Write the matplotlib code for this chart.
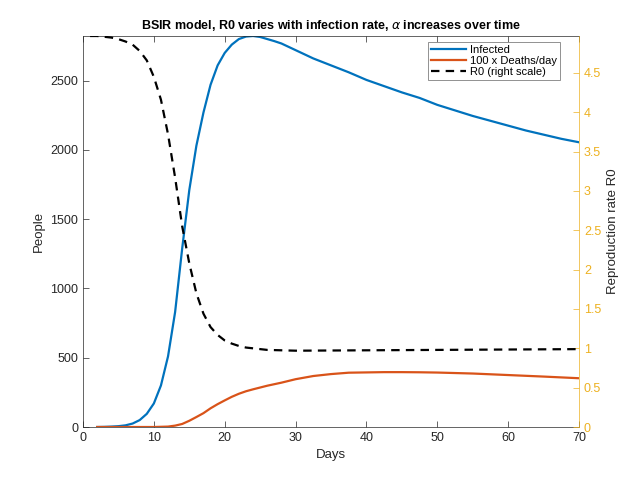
import matplotlib
matplotlib.use("Agg")
import matplotlib.pyplot as plt

plt.rcParams['font.family'] = ['Liberation Sans', 'DejaVu Sans']
plt.rcParams['mathtext.fontset'] = 'dejavusans'

# infected people
inf_days = [2, 3, 4, 5, 6, 7, 8, 9, 10, 11, 12, 13, 14, 15, 16, 17, 18, 19, 20,
            21, 22, 23, 24, 25, 26, 27, 28, 30, 32.5, 35, 37.5, 40, 42.5, 45,
            47.5, 50, 52.5, 55, 57.5, 60, 62.5, 65, 67.5, 70]
infected = [0, 1, 3, 6, 12, 25, 50, 95, 170, 300, 510, 830, 1290, 1710, 2030,
            2270, 2470, 2610, 2700, 2760, 2800, 2818, 2822, 2815, 2800, 2785,
            2768, 2720, 2660, 2610, 2560, 2505, 2460, 2415, 2375, 2325, 2285,
            2245, 2210, 2175, 2140, 2110, 2080, 2055]

# 100 x deaths per day
death_days = [2, 6, 10, 12, 13, 14, 15, 16, 17, 18, 19, 20, 21, 22, 23, 24, 25,
              26, 28, 30, 32.5, 35, 37.5, 40, 42.5, 45, 47.5, 50, 55, 60, 65, 70]
deaths100 = [0, 0, 0, 3, 10, 22, 45, 72, 100, 135, 165, 192, 218, 240, 258, 272,
             285, 298, 320, 345, 368, 382, 392, 394, 396, 396, 395, 393, 386,
             375, 364, 352]

# reproduction rate
r0_days = [1, 2, 3, 4, 5, 6, 7, 8, 9, 10, 11, 12, 13, 14, 15, 16, 17, 18, 19, 20,
           21, 22, 23, 24, 25, 26, 28, 30, 40, 50, 60, 70]
r0 = [4.97, 4.97, 4.96, 4.95, 4.93, 4.90, 4.86, 4.78, 4.66, 4.45, 4.16, 3.72,
      3.17, 2.55, 2.08, 1.70, 1.44, 1.27, 1.17, 1.10, 1.06, 1.03, 1.01, 1.00,
      0.99, 0.98, 0.975, 0.97, 0.975, 0.98, 0.985, 0.99]

BLUE = '#0072BD'
RED = '#D95319'
ORANGE = '#EDB120'
AXC = '#262626'

fig = plt.figure(figsize=(6.4, 4.8), dpi=100)
ax = fig.add_axes([0.1297, 0.1104, 0.775, 0.8146])
ax2 = ax.twinx()

l1, = ax.plot(inf_days, infected, color=BLUE, lw=1.6, label='Infected')
l2, = ax.plot(death_days, deaths100, color=RED, lw=1.6, label='100 x Deaths/day')
l3, = ax2.plot(r0_days, r0, color='black', lw=1.6, ls=(0, (3.8, 2.8)),
               label='R0 (right scale)')

ax.set_xlim(0, 70)
ax.set_ylim(0, 2822)
ax2.set_ylim(0, 4.97)
ax.set_xticks(range(0, 71, 10))
ax.set_yticks(range(0, 2501, 500))
ax2.set_yticks([0, 0.5, 1, 1.5, 2, 2.5, 3, 3.5, 4, 4.5])
ax2.set_yticklabels(['0', '0.5', '1', '1.5', '2', '2.5', '3', '3.5', '4', '4.5'])

ax.tick_params(axis='both', direction='in', length=4, width=0.5, color=AXC,
               labelsize=9, labelcolor=AXC, top=True, right=False)
ax2.tick_params(axis='y', direction='in', length=4, width=0.5, color=ORANGE,
                labelsize=9, labelcolor=ORANGE)
for s in ['left', 'bottom', 'top']:
    ax.spines[s].set_color(AXC)
    ax.spines[s].set_linewidth(0.5)
    ax2.spines[s].set_visible(False)
ax.spines['right'].set_visible(False)
ax2.spines['right'].set_color(ORANGE)
ax2.spines['right'].set_linewidth(0.5)

ax.set_xlabel('Days', fontsize=9.5, color=AXC)
ax.set_ylabel('People', fontsize=9.5, color=AXC)
ax2.set_ylabel('Reproduction rate R0', fontsize=9.5, color=AXC)
ax.set_title(r'BSIR model, R0 varies with infection rate, $\alpha$ increases over time',
             fontsize=9, fontweight='bold', color='black', pad=5)

leg = ax2.legend(handles=[l1, l2, l3], loc='upper right', fontsize=8,
                 bbox_to_anchor=(0.962, 0.985), borderaxespad=0,
                 fancybox=False, framealpha=1, edgecolor='#808080',
                 handlelength=3.2, labelspacing=0.1, borderpad=0.25,
                 handletextpad=0.35)
leg.get_frame().set_linewidth(0.6)

fig.savefig('out.png', dpi=100)
